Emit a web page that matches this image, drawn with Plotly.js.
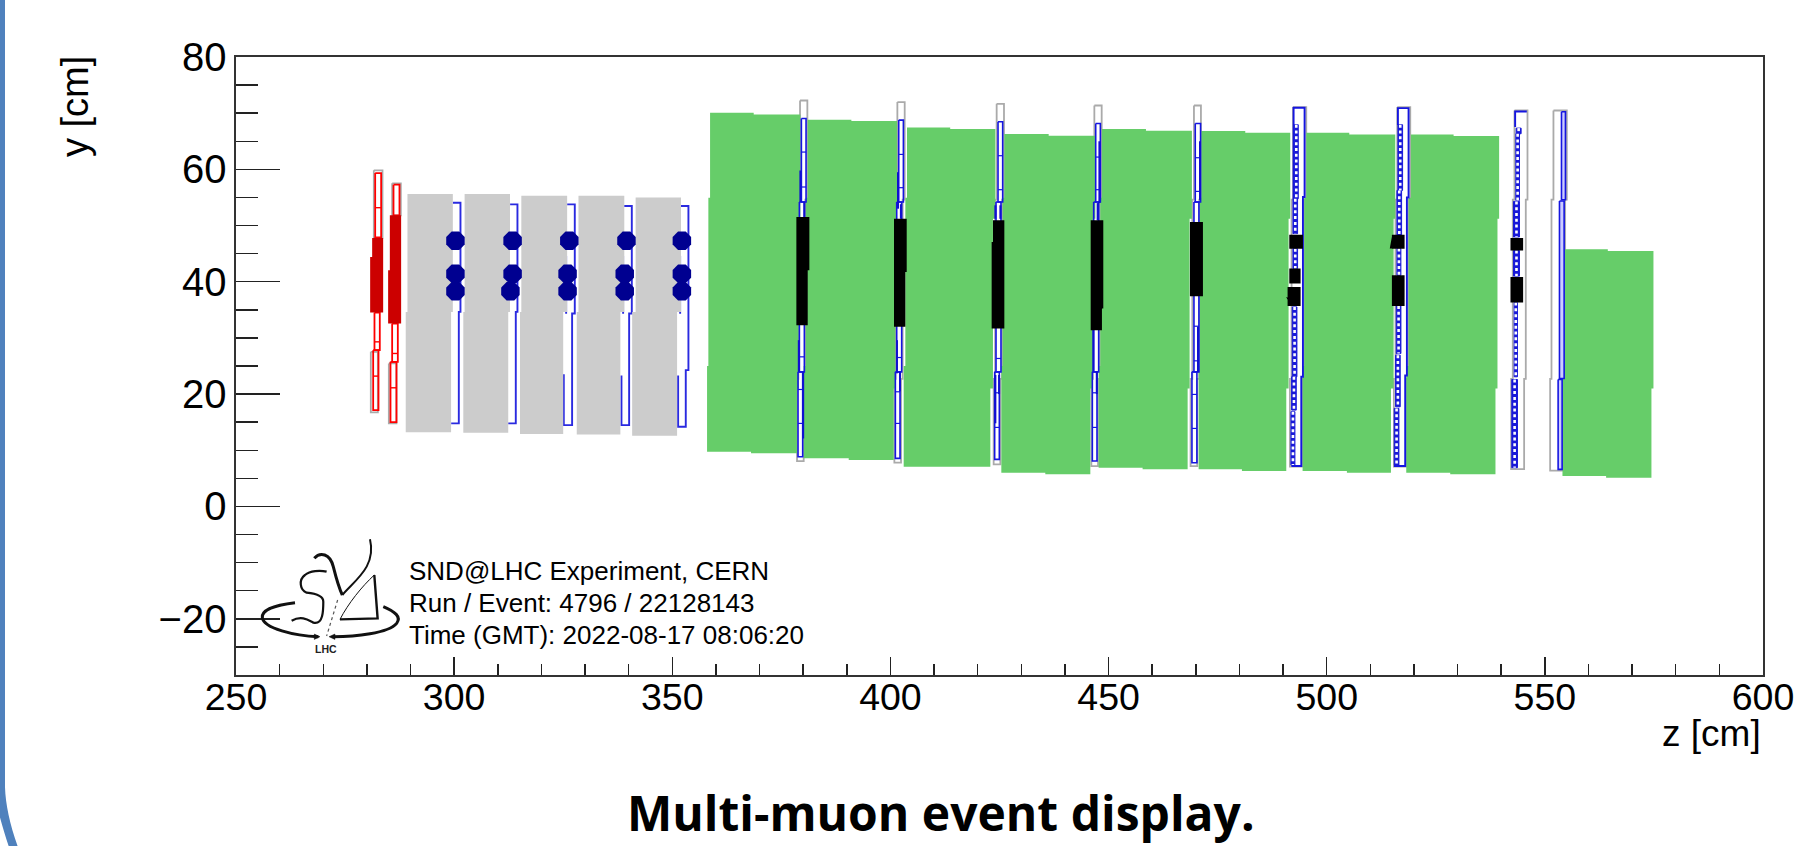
<!DOCTYPE html>
<html><head><meta charset="utf-8">
<script src="https://cdn.plot.ly/plotly-3.0.1.min.js"></script>
<style>html,body{margin:0;padding:0;background:#fff;overflow:hidden}#c{width:1794px;height:846px}</style>
</head><body><div id="c"></div>
<script>
// z / y in cm
const greenBlocks = [
 // zTL zStepT zTR yT1 yT2 | zMR | zBR zStepB zBL yB2 yB1 | zML
 [358.66,368.66,379.36,70.07,69.77,378.98,378.59,368.05,357.97,9.45,9.74,358.27],
 [381.04,391.05,401.51,68.83,68.59,401.13,400.75,390.44,380.12,8.26,8.56,380.58],
 [403.80,413.70,424.05,67.46,67.17,423.50,422.90,413.10,403.04,7.08,7.08,403.42],
 [426.11,436.27,446.97,66.28,65.98,446.43,445.82,435.50,425.42,5.71,6.01,425.73],
 [448.48,458.57,469.10,67.17,66.87,468.57,468.12,457.80,447.72,6.60,6.90,448.10],
 [471.25,481.33,491.64,66.81,66.51,491.26,490.73,480.57,470.64,6.31,6.60,470.87],
 [495.31,505.17,515.71,66.51,66.22,515.33,514.72,504.63,494.47,6.01,6.31,494.85],
 [519.30,529.08,539.52,66.22,65.92,539.14,538.68,528.31,518.23,5.71,6.01,518.77],
 [554.50,564.43,574.89,45.77,45.48,574.89,574.43,564.04,554.04,5.12,5.42,554.50]
];
const greyBlocks = [
 // zTL zTR zBR zBL yT yB
 [289.3,299.7,299.3,288.9,55.6,13.2],
 [302.4,312.8,312.4,302.1,55.6,13.1],
 [315.4,325.9,325.0,315.1,55.3,12.9],
 [328.5,339.0,338.1,328.1,55.3,12.8],
 [341.6,352.0,351.1,340.8,55.0,12.6]
];
const muBlueLines = [
 [[299.69,54.07],[301.45,54.07],[301.45,34.63],[301.07,34.63],[301.07,14.78],[299.31,14.78]],
 [[312.83,53.77],[314.51,53.77],[314.51,34.63],[314.13,34.63],[314.13,14.78],[312.38,14.78]],
 [[325.90,53.77],[327.65,53.77],[327.65,34.34],[327.04,34.34],[327.04,14.48],[325.29,14.48],[325.13,14.48],[325.13,23.55]],
 [[338.96,53.48],[340.72,53.48],[340.72,34.34],[340.11,34.34],[340.11,14.48],[338.35,14.48],[338.35,23.3]],
 [[351.95,53.48],[353.70,53.48],[353.70,24.26],[353.09,24.26],[353.09,14.19],[351.34,14.19],[351.34,23.3]],
 [[325.67,44.6],[325.67,34.3]],
 [[338.73,44.6],[338.73,34.3]],
 [[351.80,44.6],[351.80,34.3]]
];
const blobZ = [300.3,300.3,300.3,313.4,313.4,312.9,326.4,326.0,326.0,339.5,339.1,339.1,352.2,352.2,352.2];
const blobY = [47.3,41.4,38.3,47.3,41.4,38.3,47.3,41.4,38.3,47.3,41.4,38.3,47.3,41.4,38.3];

const redFill = [[281.21,283.73,47.79,44.41],[280.75,283.73,44.41,34.51],[285.26,287.85,51.82,42.04],[284.87,287.85,42.04,32.56]];
const redBoxes = [[281.9,283.27,59.34,47.9],[281.74,282.96,34.51,27.82],[281.44,282.66,27.82,17.15],
 [286.1,287.47,57.27,51.82],[285.79,287.09,32.56,25.74],[285.41,286.78,25.74,15.0]];
const redBars = [[281.9,283.27,53.18],[281.74,282.96,29.3],[281.44,282.66,23.2],[285.79,287.09,27.23],[285.41,286.78,21.12]];

const vetoGrey = [[281.59,283.58,59.82,47.8],[280.90,282.51,27.52,16.74],[285.79,287.78,57.51,51.8],[285.03,286.78,25.45,14.78]];
// each station outline steps inward twice going down: [zL,zR] for three sections, then yTop, yBottom
const stationGrey = [
 [[379.28,380.96],[378.90,380.50],[378.59,380.12],72.26,8.08],
 [[401.59,403.27],[401.20,402.80],[400.90,402.43],71.97,7.79],
 [[424.35,426.03],[424.00,425.60],[423.66,425.19],71.67,7.49],
 [[446.74,448.42],[446.40,448.00],[446.05,447.58],71.37,7.19],
 [[469.57,471.17],[469.20,470.80],[468.80,470.33],71.37,7.19],
 [[492.26,495.31],[491.95,494.85],[491.57,494.39],71.08,7.08],
 [[516.17,519.15],[515.78,518.76],[515.40,518.38],71.08,7.08],
 [[543.04,546.02],[542.65,545.63],[542.27,545.25],70.48,6.66],
 [[551.97,555.03],[551.52,554.65],[551.21,554.27],70.48,6.37]
];
const stepTop=54.6, stepLow=22.7;
const stationBlue = [
 [379.59,380.66,69.06,54.19],[379.13,380.27,54.19,23.96],[378.82,379.89,23.96,8.85],
 [401.90,402.97,68.77,54.19],[401.44,402.58,54.19,23.96],[401.13,402.20,23.96,8.56],
 [424.66,425.73,68.47,54.19],[424.20,425.34,54.19,23.96],[423.89,424.96,23.96,8.38],
 [447.05,448.12,68.17,54.19],[446.59,447.73,54.19,23.96],[446.28,447.35,23.96,8.08],
 [469.87,471.09,68.17,54.19],[469.57,470.71,54.19,23.96],[469.11,470.25,23.96,7.79]
];
const stationBars = [
 [379.59,380.66,63.08],[379.59,380.66,56.86],[379.13,380.27,26.63],[378.82,379.89,20.82],[378.82,379.89,14.78],
 [401.90,402.97,62.66],[401.90,402.97,56.74],[401.44,402.58,26.51],[401.13,402.20,20.41],[401.13,402.20,14.78],
 [424.66,425.73,62.43],[424.66,425.73,56.38],[424.20,425.34,26.34],[423.89,424.96,20.23],[423.89,424.96,14.07],
 [447.05,448.12,62.19],[447.05,448.12,56.38],[446.28,447.35,20.23],[446.28,447.35,14.07],
 [469.87,471.09,62.07],[469.87,471.09,56.08],[469.57,470.71,32.08],[469.57,470.71,25.92],[469.11,470.25,19.94],[469.11,470.25,13.89]
];
const thickBlue = [
 [379.36,59.8,54.2],[380.27,54.2,51.5],[380.0,24.0,12.1],[379.0,29.6,24.0],
 [401.74,59.5,53.0],[402.4,53.8,51.2],[401.5,29.6,23.7],[402.2,24.0,20.5],
 [424.05,53.6,51.2],[425.2,53.6,51.2],[424.05,23.4,14.8],[424.9,23.4,20.0],
 [447.9,65.0,54.0],[447.5,54.0,50.9],[446.5,31.4,24.0],[447.3,24.0,20.0],
 [470.95,65.0,54.5],[470.5,32.0,23.9]
];
const ladders = [
 [492.56,493.48,67.94,54.78],[492.26,493.32,54.78,48.56],[492.26,493.32,45.89,42.34],[492.10,493.17,35.52,23.08],[491.95,493.02,23.08,17.15],[491.80,492.71,16.86,7.37],
 [516.32,517.39,67.94,56.26],[516.09,517.16,56.26,48.26],[516.09,517.00,45.90,41.15],[515.94,517.01,35.70,27.23],[515.78,516.85,26.93,17.74],[515.48,516.55,17.45,7.37],
 [543.42,544.56,67.34,66.34],[543.34,544.18,66.34,54.48],[542.81,544.18,54.30,47.97],[542.81,544.18,45.54,41.00],[542.96,543.72,36.29,23.08],[542.42,543.72,22.60,6.90]
];
const outerBlue = [
 [[492.41,54.78],[492.41,70.96],[494.93,70.96],[494.93,55.08],[494.55,55.08],[494.55,23.08],[494.17,23.08],[494.17,7.2],[491.9,7.2]],
 [[516.32,67.9],[516.32,70.9],[518.76,70.9],[518.76,55.0],[518.38,55.0],[518.38,23.3],[517.99,23.3],[517.99,7.2],[515.4,7.2]],
 [[543.19,67.52],[543.19,70.31],[545.86,70.31]]
];
const lastStation = [[553.81,554.72,70.25,54.6],[553.35,554.42,54.37,22.78],[553.04,553.96,22.6,6.6]];
const blackHits = [
 [378.44,381.42,51.52,42.04],[378.44,381.04,42.04,32.26],
 [400.82,403.73,51.22,41.74],[400.82,403.42,41.74,31.97],
 [423.51,426.11,50.93,47.08],[423.20,426.11,47.08,31.67],
 [445.90,448.79,50.93,35.22],[445.90,448.48,35.22,31.37],
 [468.65,471.63,50.63,37.42],
 [491.42,494.55,48.38,45.89],[491.42,494.01,42.34,39.67],[491.03,494.01,39.08,35.70],
 [514.94,517.85,48.38,45.89],[514.94,517.85,41.15,35.70],
 [542.12,545.02,47.79,45.54],[542.12,545.02,40.85,36.29]
];
const blackNotches = [
 [[514.94,48.0],[514.94,45.9],[514.45,45.9]],
 [[491.03,39.08],[491.7,39.08],[491.03,37.2],[490.7,37.3],[491.03,36.8]]
];
const infoLines = ["SND@LHC Experiment, CERN","Run / Event: 4796 / 22128143","Time (GMT): 2022-08-17 08:06:20"];
const infoY = [-11.5,-17.2,-22.9];
const captionText = "Multi-muon event display.";

// helpers -----------------------------------------------------------
function polyXY(polys){const x=[],y=[];polys.forEach(p=>{p.forEach(q=>{x.push(q[0]);y.push(q[1]);});x.push(null);y.push(null);});return{x,y};}
function rectPoly(r){return [[r[0],r[2]],[r[1],r[2]],[r[1],r[3]],[r[0],r[3]],[r[0],r[2]]];}
function fillTrace(polys,color,lw){const d=polyXY(polys);return{x:d.x,y:d.y,mode:'lines',fill:'toself',fillcolor:color,line:{width:lw||0,color:color},hoverinfo:'skip',showlegend:false,connectgaps:false};}
function lineTrace(polys,color,w,dash){const d=polyXY(polys);return{x:d.x,y:d.y,mode:'lines',line:{width:w,color:color,dash:dash||'solid'},hoverinfo:'skip',showlegend:false,connectgaps:false};}

const Ys=51.22, Ys2=21.0, Yl=54.96, Yl2=25.0;
const greenPolys=greenBlocks.map(b=>{
 const [tl,st,tr,t1,t2,mr,br,sb,bl,b2,b1,ml]=b;
 return [[tl,t1],[st,t1],[st,t2],[tr,t2],[tr,Ys],[mr,Ys],[mr,Ys2],[br,Ys2],[br,b2],[sb,b2],[sb,b1],[bl,b1],[bl,Yl2],[ml,Yl2],[ml,Yl],[tl,Yl],[tl,t1]];
});
const MID=34.63;
const greyPolys=greyBlocks.map(b=>{const [tl,tr,br,bl,yt,yb]=b;return [[tl,yt],[tr,yt],[tr,MID],[br,MID],[br,yb],[bl,yb],[bl,MID],[tl,MID],[tl,yt]];});
const bars=a=>a.map(b=>[[b[0],b[2]],[b[1],b[2]]]);
const stationOutline=s=>{const [a,b,c,yt,yb]=s;return [[a[0],yt],[a[1],yt],[a[1],stepTop],[b[1],stepTop],[b[1],stepLow],[c[1],stepLow],[c[1],yb],[c[0],yb],[c[0],stepLow],[b[0],stepLow],[b[0],stepTop],[a[0],stepTop],[a[0],yt]];};

const traces=[
 lineTrace(vetoGrey.map(rectPoly).concat(stationGrey.map(stationOutline)),'#aaaaaa',1.8),
 lineTrace(muBlueLines,'#2a2ae0',1.9),
 fillTrace(greyPolys,'#cccccc'),
 fillTrace(greenPolys,'#66cd69'),
 lineTrace(redBoxes.map(rectPoly),'#ff0000',1.8),
 lineTrace(bars(redBars),'#ff0000',1.4),
 fillTrace(redFill.map(rectPoly),'#cc0000'),
 lineTrace(stationBlue.map(rectPoly),'#1515e0',1.6),
 lineTrace(bars(stationBars),'#1515e0',1.2),
 lineTrace(thickBlue.map(t=>[[t[0],t[1]],[t[0],t[2]]]),'#1010d0',2),
 lineTrace(outerBlue,'#1515e0',1.9),
 fillTrace(lastStation.map(rectPoly),'#ccccff'),
 lineTrace(lastStation.map(rectPoly),'#1515e0',1.6),
 fillTrace(ladders.map(rectPoly),'#1818d8',1),
 lineTrace(ladders.map(r=>[[(r[0]+r[1])/2,r[2]],[(r[0]+r[1])/2,r[3]]]),'#ffffff',2.6,'3px,2.8px'),
 fillTrace(blackHits.map(rectPoly).concat(blackNotches),'#000000'),
 {x:blobZ,y:blobY,mode:'markers',marker:{symbol:'octagon',size:20,color:'#000090',line:{width:0}},hoverinfo:'skip',showlegend:false}
];

// logo, drawn in axis units
const Lz=X=>(254.35+X/13.09).toFixed(2), Ly=Y=>(-4.19-Y/16.85).toFixed(2);
function lp(s){return s.replace(/(-?[\d.]+),(-?[\d.]+)/g,(m,a,b)=>Lz(+a)+','+Ly(+b)).replace(/,/g,' ');}
const logoStrokes=[
 ["M 120,218 C 60,225 20,240 22,262 C 25,295 120,318 190,320",3],
 ["M 385,230 C 420,245 440,260 425,280 C 400,310 300,320 235,320",3],
 ["M 110,272 C 140,255 160,270 175,278 C 205,285 205,240 205,215 C 205,195 175,190 155,188 C 135,180 130,150 150,135 C 165,122 195,120 215,125",2.2],
 ["M 178,85 C 195,65 225,70 235,110 C 245,150 250,170 262,195",3],
 ["M 262,195 C 300,150 365,110 345,28",2],
 ["M 255,268 L 368,265 L 358,135",2.4],
 ["M 358,135 C 320,170 280,220 255,268",1]
];
const logoFills=["M 195,320 L 178,312 L 178,328 Z","M 222,320 L 240,312 L 240,328 Z"];
const shapes=[];
logoStrokes.forEach(s=>shapes.push({type:'path',xref:'x',yref:'y',layer:'above',path:lp(s[0]),line:{color:'#111',width:s[1]}}));
logoFills.forEach(s=>shapes.push({type:'path',xref:'x',yref:'y',layer:'above',path:lp(s),fillcolor:'#111',line:{color:'#111',width:0.5}}));
shapes.push({type:'path',xref:'x',yref:'y',layer:'above',path:lp("M 248,210 L 215,318"),line:{color:'#555',width:1.2,dash:'dot'}});
// slide border at the left edge of the page
const px=(a)=>((a-236)/1527).toFixed(5), py=(b)=>((675-b)/618).toFixed(5);
shapes.push({type:'path',xref:'paper',yref:'paper',layer:'above',line:{width:0},fillcolor:'#4f81bd',
 path:`M ${px(-2)} ${py(-2)} L ${px(5)} ${py(-2)} L ${px(5)} ${py(787)} C ${px(5.6)} ${py(805)} ${px(10)} ${py(825)} ${px(18.3)} ${py(848)} L ${px(9.3)} ${py(848)} C ${px(5)} ${py(835)} ${px(2)} ${py(825)} ${px(-2)} ${py(810)} Z`});

const F="'Liberation Sans',Arial,sans-serif";
const annotations=[
 {text:'z [cm]',xref:'paper',yref:'paper',x:1,xanchor:'right',xshift:0,y:(675-733)/618,yanchor:'middle',showarrow:false,font:{family:F,size:37,color:'#000'}},
 {text:'y [cm]',xref:'paper',yref:'paper',x:(75-236)/1527,xanchor:'center',y:(675-107)/618,yanchor:'middle',textangle:-90,showarrow:false,font:{family:F,size:38,color:'#000'}},
 {text:captionText,xref:'paper',yref:'paper',x:(940.5-236)/1527,xanchor:'center',y:(675-813)/618,yanchor:'middle',showarrow:false,font:{family:"'Open Sans',sans-serif",size:48,color:'#000',weight:700}},
 {text:'LHC',xref:'x',yref:'y',x:+Lz(213),y:+Ly(358),xanchor:'center',yanchor:'middle',showarrow:false,font:{family:F,size:10.5,color:'#222',weight:700}}
].concat(infoLines.map((t,i)=>({text:t,xref:'x',yref:'y',x:289.2,xanchor:'left',y:infoY[i],yanchor:'middle',showarrow:false,font:{family:F,size:26,color:'#000'}})));

Plotly.newPlot('c',traces,{
 width:1794,height:846,showlegend:false,paper_bgcolor:'#fff',plot_bgcolor:'#fff',
 margin:{l:236,r:31,t:57,b:171,pad:0},
 font:{family:F,color:'#000'},
 xaxis:{range:[250,600],tick0:250,dtick:50,ticks:'inside',ticklen:18,tickwidth:1.5,tickcolor:'#222',
  minor:{dtick:10,ticks:'inside',ticklen:11,tickwidth:1.5,tickcolor:'#222',showgrid:false},
  showgrid:false,zeroline:false,showline:true,mirror:true,linecolor:'#333',linewidth:1.6,
  tickfont:{family:F,size:37.5,color:'#000'},ticklabelstandoff:-12,ticklabeloverflow:'allow',fixedrange:true},
 yaxis:{range:[-30,80],tick0:0,dtick:20,ticks:'inside',ticklen:44,tickwidth:1.5,tickcolor:'#222',
  minor:{dtick:5,ticks:'inside',ticklen:22,tickwidth:1.5,tickcolor:'#222',showgrid:false},
  showgrid:false,zeroline:false,showline:true,mirror:true,linecolor:'#333',linewidth:1.6,
  tickfont:{family:F,size:40,color:'#000'},ticklabeloverflow:'allow',fixedrange:true},
 shapes:shapes,annotations:annotations
},{staticPlot:true,displayModeBar:false});
</script></body></html>
